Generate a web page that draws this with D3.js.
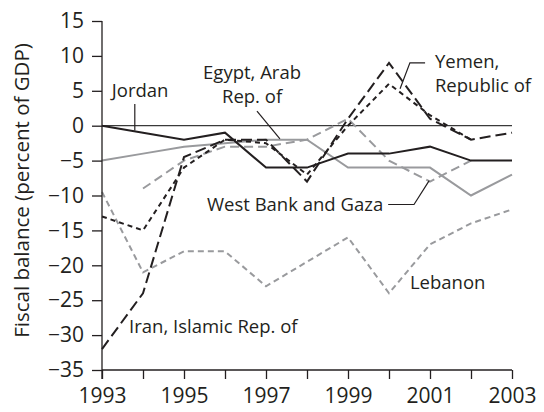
<!DOCTYPE html>
<html>
<head>
<meta charset="utf-8">
<script src="https://cdn.jsdelivr.net/npm/d3@7/dist/d3.min.js"></script>
<style>
  html, body { margin: 0; padding: 0; background: #fff; }
  svg { display: block; font-family: "Open Sans", sans-serif; }
</style>
</head>
<body>
<svg id="chart" width="544" height="412"></svg>
<script>
// ---- data ----
const years   = [1993, 1994, 1995, 1996, 1997, 1998, 1999, 2000, 2001, 2002, 2003];
const jordan  = [0, -1, -2, -1, -6, -6, -4, -4, -3, -5, -5];
const egypt   = [-5, -4, -3, -2.5, -2, -2, -6, -6, -6, -10, -7];
const westBank= [null, -9, -5, -3, -3, -2, 1, -5, -8, -5, null];
const lebanon = [-9.5, -21, -18, -18, -23, -19.5, -16, -24, -17, -14, -12];
const iran    = [-32, -24, -4.5, -2, -2, -8, 1, 9, 1, -2, -1];
const yemen   = [-13, -15, -6, -2, -2.5, -7, 0, 6, 1.5, -2, null];
const yTicks  = [15, 10, 5, 0, -5, -10, -15, -20, -25, -30, -35];
const xLabelYears = [1993, 1995, 1997, 1999, 2001, 2003];
const yTitle = "Fiscal balance (percent of GDP)";

// ---- layout ----
const svg = d3.select("#chart");
const x = d3.scaleLinear().domain([1993, 2003]).range([102, 512]);
const y = d3.scaleLinear().domain([-35, 15]).range([370, 21]);
const BLACK = "#231f20", GRAY = "#999a9d";

const series = [
  { name: "Egypt",    values: egypt,    color: GRAY,  dash: null },
  { name: "WestBank", values: westBank, color: GRAY,  dash: "9,5" },
  { name: "Lebanon",  values: lebanon,  color: GRAY,  dash: "6,4" },
  { name: "Jordan",   values: jordan,   color: BLACK, dash: null },
  { name: "Iran",     values: iran,     color: BLACK, dash: "11,5" },
  { name: "Yemen",    values: yemen,    color: BLACK, dash: "5,4" }
];

// zero line
svg.append("line")
  .attr("x1", x(1993)).attr("x2", x(2003))
  .attr("y1", y(0)).attr("y2", y(0))
  .attr("stroke", "#3a3a3a").attr("stroke-width", 1.3);

const line = d3.line()
  .defined(d => d[1] !== null)
  .x(d => x(d[0])).y(d => y(d[1]));

series.forEach(s => {
  svg.append("path")
    .datum(years.map((yr, i) => [yr, s.values[i]]))
    .attr("d", line)
    .attr("fill", "none")
    .attr("stroke", s.color)
    .attr("stroke-width", 2)
    .attr("stroke-dasharray", s.dash)
    .attr("stroke-linejoin", "miter");
});

// axes
const yAxis = d3.axisLeft(y).tickValues(yTicks).tickSize(10).tickPadding(8)
  .tickFormat(d => d < 0 ? "\u2212" + Math.abs(d) : String(d));
const gy = svg.append("g").attr("transform", `translate(${x(1993)},0)`).call(yAxis);
gy.select(".domain").attr("d", `M0,${y(15)}V${y(-35) + 9}`);
const xAxis = d3.axisBottom(x).tickValues(years).tickSize(9).tickPadding(6)
  .tickFormat(d => xLabelYears.includes(d) ? String(d) : "");
const gx = svg.append("g").attr("transform", `translate(0,${y(-35)})`).call(xAxis);
gx.select(".domain").attr("d", `M${x(1993)},0H${x(2003)}`);
[gx, gy].forEach(g => {
  g.selectAll("path, line").attr("stroke", BLACK).attr("stroke-width", 1.3);
  g.selectAll("text").attr("fill", BLACK).style("font-size", "21px")
    .style("font-family", "'Open Sans', sans-serif");
});
gx.selectAll("text").attr("dy", "0.85em");

// y title
svg.append("text")
  .attr("transform", `translate(29,${(y(15) + y(-35)) / 2 - 5}) rotate(-90)`)
  .attr("text-anchor", "middle")
  .attr("fill", BLACK)
  .style("font-size", "20.5px")
  .text(yTitle);

// annotations (data coordinates)
const labels = [
  { t: "Jordan", x: 1993.24, y: 4.14, a: "start" },
  { t: "Egypt, Arab", x: 1996.66, y: 6.71, a: "middle" },
  { t: "Rep. of", x: 1996.66, y: 3.29, a: "middle" },
  { t: "Yemen,", x: 2001.12, y: 8.29, a: "start" },
  { t: "Republic of", x: 2001.12, y: 4.86, a: "start" },
  { t: "West Bank and Gaza", x: 1995.56, y: -12.29, a: "start" },
  { t: "Lebanon", x: 2000.51, y: -23.43, a: "start" },
  { t: "Iran, Islamic Rep. of", x: 1993.66, y: -29.71, a: "start" }
];
const leaders = [
  [[1993.8, 3.1], [1993.8, -0.7]],
  [[1996.78, 2.1], [1997.34, -1.9]],
  [[2000.88, 9], [2000.51, 9], [2000.27, 5.29]],
  [[1999.98, -11.29], [2000.61, -11.29], [2000.98, -7.86]]
];
svg.selectAll(".lbl").data(labels).enter().append("text")
  .attr("x", d => x(d.x)).attr("y", d => y(d.y))
  .attr("text-anchor", d => d.a)
  .attr("fill", BLACK)
  .style("font-size", "18.5px")
  .text(d => d.t);
const lead = d3.line().x(d => x(d[0])).y(d => y(d[1]));
leaders.forEach(p => {
  svg.append("path").attr("d", lead(p))
    .attr("fill", "none").attr("stroke", BLACK).attr("stroke-width", 1.2);
});
</script>
</body>
</html>
